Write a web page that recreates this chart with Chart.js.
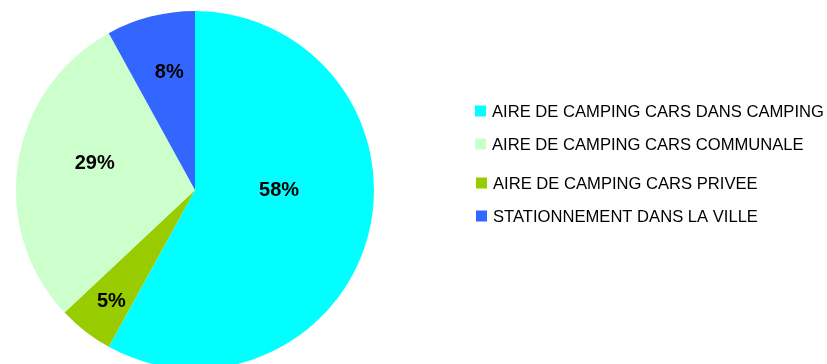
<!DOCTYPE html>
<html>
<head>
<meta charset="utf-8">
<script src="https://cdn.jsdelivr.net/npm/chart.js@4/dist/chart.umd.min.js"></script>
<style>
html,body{margin:0;padding:0;background:#fff;overflow:hidden;width:827px;height:364px;}
#wrap{position:relative;width:827px;height:372px;}
</style>
</head>
<body>
<div id="wrap"><canvas id="c" width="827" height="372"></canvas></div>
<script>
// Slices in drawing order (clockwise from 12 o'clock)
const categories = [
  "AIRE DE CAMPING CARS DANS CAMPING",
  "AIRE DE CAMPING CARS PRIVEE",
  "AIRE DE CAMPING CARS COMMUNALE",
  "STATIONNEMENT DANS LA VILLE"
];
const values = [58, 5, 29, 8];
const colors = ["#00FFFF", "#99CC00", "#CCFFCC", "#3366FF"];
// Legend order (indices into categories)
const legendOrder = [0, 2, 1, 3];

const labelPlugin = {
  id: 'sliceLabels',
  afterDatasetsDraw(chart, args, opts) {
    const ctx = chart.ctx;
    const meta = chart.getDatasetMeta(0);
    const total = values.reduce((a, b) => a + b, 0);
    ctx.save();
    ctx.font = 'bold 20px "Liberation Sans", Arial, sans-serif';
    ctx.fillStyle = '#000';
    ctx.textAlign = 'center';
    ctx.textBaseline = 'middle';
    meta.data.forEach((arc, i) => {
      const p = arc.getProps(['startAngle', 'endAngle', 'outerRadius', 'x', 'y'], true);
      const adj = opts.place[i];
      const mid = (p.startAngle + p.endAngle) / 2 + adj[0] * Math.PI / 180;
      const r = p.outerRadius * adj[1];
      const x = p.x + Math.cos(mid) * r;
      const y = p.y + Math.sin(mid) * r;
      ctx.fillText(Math.round(values[i] / total * 100) + '%', x, y);
    });
    ctx.restore();
  }
};

const legendPlugin = {
  id: 'sideLegend',
  afterDraw(chart, args, opts) {
    const ctx = chart.ctx;
    ctx.save();
    ctx.font = '16.6px "Liberation Sans", Arial, sans-serif';
    ctx.textBaseline = 'middle';
    ctx.textAlign = 'left';
    legendOrder.forEach((idx, k) => {
      const row = opts.rows[k];
      ctx.fillStyle = colors[idx];
      ctx.fillRect(row[0], row[1] - 5.5, 11, 11);
      ctx.fillStyle = '#000';
      ctx.fillText(categories[idx], row[0] + 17, row[1] + 1);
    });
    ctx.restore();
  }
};

new Chart(document.getElementById('c'), {
  type: 'pie',
  data: {
    labels: categories,
    datasets: [{
      data: values,
      backgroundColor: colors,
      borderWidth: 0
    }]
  },
  options: {
    responsive: false,
    animation: false,
    events: [],
    layout: { padding: { left: 16, right: 453, top: 11, bottom: 3 } },
    plugins: {
      legend: { display: false },
      tooltip: { enabled: false },
      sliceLabels: { place: [[-14, 0.47], [-1, 0.78], [6, 0.58], [2, 0.67]] },
      sideLegend: { rows: [[475, 111], [475, 144], [476, 183], [476, 216]] }
    }
  },
  plugins: [labelPlugin, legendPlugin]
});
</script>
</body>
</html>
